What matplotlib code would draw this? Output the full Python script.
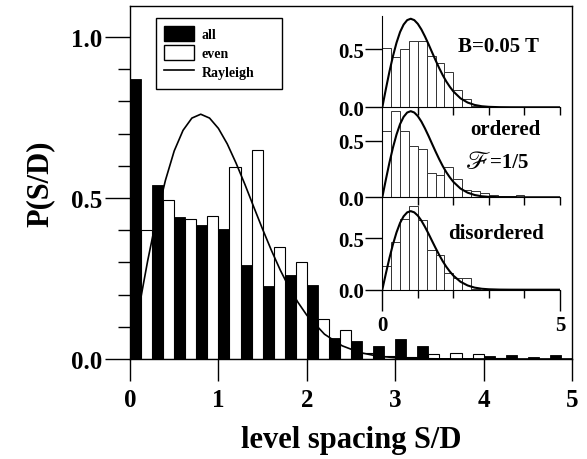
import numpy as np
import matplotlib
matplotlib.use("Agg")
import matplotlib.pyplot as plt
from matplotlib.patches import Patch, Rectangle
from matplotlib.lines import Line2D

plt.rcParams["font.family"] = ["Liberation Serif", "DejaVu Serif"]
plt.rcParams["font.weight"] = "bold"

# ---- data ----
BIN_W = 0.25
# main histogram, bins of 0.25 starting at 0
all_counts = [0.87, 0.54, 0.44, 0.415, 0.405, 0.293, 0.226, 0.261, 0.23,
              0.064, 0.055, 0.041, 0.061, 0.041, 0.004, 0.004, 0.009,
              0.013, 0.007, 0.011]
even_counts = [0.40, 0.493, 0.436, 0.445, 0.597, 0.649, 0.347, 0.300, 0.124,
               0.091, 0.019, 0.010, 0.005, 0.015, 0.018, 0.015, 0.002,
               0.0, 0.0, 0.0]

# Rayleigh curve
ray_s = [0.0, 0.1, 0.2, 0.3, 0.4, 0.5, 0.6, 0.7, 0.8, 0.9, 1.0, 1.1, 1.2,
         1.3, 1.4, 1.5, 1.6, 1.7, 1.8, 1.9, 2.0, 2.2, 2.4, 2.6, 2.8, 3.0,
         3.3, 3.6, 4.0, 5.0]
ray_p = [0.0, 0.156, 0.305, 0.439, 0.554, 0.646, 0.710, 0.748, 0.760,
         0.748, 0.716, 0.668, 0.608, 0.542, 0.472, 0.403, 0.337, 0.276,
         0.222, 0.176, 0.136, 0.077, 0.041, 0.020, 0.009, 0.004, 0.001,
         0.0002, 0.0, 0.0]

# insets
b005_counts = [0.51, 0.434, 0.50, 0.566, 0.571, 0.443, 0.377, 0.30, 0.151,
               0.071, 0.012]
ordered_counts = [0.582, 0.759, 0.588, 0.456, 0.426, 0.212, 0.20, 0.27,
                  0.162, 0.065, 0.059, 0.035, 0.02, 0.015, 0.01, 0.02]
disordered_counts = [0.232, 0.465, 0.684, 0.806, 0.674, 0.384, 0.335,
                     0.161, 0.113, 0.113, 0.01]

W, H = 587, 460
fig = plt.figure(figsize=(W / 100, H / 100), dpi=100)


def rect(x0, y0, x1, y1):
    # pixel box -> figure fraction
    return [x0 / W, 1 - y1 / H, (x1 - x0) / W, (y1 - y0) / H]


# ---- main axes ----
ax = fig.add_axes(rect(130, 7, 572, 360))
edges = np.arange(len(all_counts)) * BIN_W
ax.bar(edges, all_counts, width=BIN_W / 2, align="edge",
       color="black", edgecolor="black", lw=0.6, zorder=2)
ax.bar(edges + BIN_W / 2, even_counts, width=BIN_W / 2, align="edge",
       color="white", edgecolor="black", lw=0.8, zorder=2)
ax.plot(ray_s, ray_p, color="black", lw=1.2, zorder=3)

ax.set_xlim(0, 5)
ax.set_ylim(0, 1.096)
ax.set_xticks(range(6))
ax.set_yticks([0.0, 0.5, 1.0])
ax.set_yticklabels(["0.0", "0.5", "1.0"])
ax.set_yticks(np.arange(0, 1.05, 0.1), minor=True)
ax.tick_params(axis="y", which="major", direction="out", length=18,
               width=1, labelsize=18, pad=2)
ax.tick_params(axis="y", which="minor", direction="out", length=9, width=1)
ax.tick_params(axis="x", which="major", direction="out", length=16,
               width=1, labelsize=18, pad=5)
for sp in ax.spines.values():
    sp.set_linewidth(1.0)
ax.set_xlabel("level spacing S/D", fontsize=22, fontweight="bold", labelpad=10)
ax.set_ylabel("P(S/D)", fontsize=22, fontweight="bold", labelpad=12)

handles = [Patch(facecolor="black", edgecolor="black", label="all"),
           Patch(facecolor="white", edgecolor="black", label="even"),
           Line2D([0], [0], color="black", lw=1.2, label="Rayleigh")]
leg = ax.legend(handles=handles, loc="upper left",
                bbox_to_anchor=(0.059, 0.966), borderaxespad=0,
                prop={"family": "Liberation Serif", "weight": "bold", "size": 10},
                handlelength=2.15, handleheight=1.2, handletextpad=0.55,
                labelspacing=0.3, borderpad=0.6, frameon=False)
# legend box is wider than its text in the original
fig.add_artist(Rectangle((156 / W, 1 - 90 / H), 126 / W, 71 / H,
                         transform=fig.transFigure, facecolor="none",
                         edgecolor="black", lw=1.0, zorder=5))

# ---- insets ----
panels = [
    (b005_counts, 16.7, 108.3, 0.786, "B=0.05 T", (3.27, 0.53)),
    (ordered_counts, 107.3, 198.3, 0.803, "ordered", (3.47, 0.60)),
    (disordered_counts, 199.0, 290.7, 0.887, "disordered", (3.21, 0.55)),
]
for k, (cnt, y0, y1, ytop, lab, pos) in enumerate(panels):
    ia = fig.add_axes(rect(382.3, y0, 560, y1))
    ia.patch.set_alpha(0)
    e = np.arange(len(cnt)) * BIN_W
    ia.bar(e, cnt, width=BIN_W, align="edge", color="white",
           edgecolor="#333333", lw=0.7, zorder=2)
    ia.plot(ray_s, ray_p, color="black", lw=1.5, zorder=3)
    ia.set_xlim(0, 5)
    ia.set_ylim(0, ytop)
    ia.spines["top"].set_visible(False)
    ia.spines["right"].set_visible(False)
    ia.set_yticks([0.0, 0.5])
    ia.set_yticklabels(["0.0", "0.5"])
    ia.tick_params(axis="y", direction="out", length=12, width=1,
                   labelsize=15, pad=1)
    if k < 2:
        ia.set_xticks([1, 2, 3, 4, 5])
        ia.tick_params(axis="x", direction="out", length=6, width=1,
                       labelbottom=False)
    else:
        ia.set_xticks([0, 5])
        ia.set_xticklabels(["0", "5"])
        ia.set_xticks([1, 2, 3, 4], minor=True)
        ia.tick_params(axis="x", which="major", direction="out", length=15,
                       width=1, labelsize=15, pad=3)
        ia.tick_params(axis="x", which="minor", direction="out", length=6,
                       width=1)
    ia.text(pos[0], pos[1], lab, ha="center", va="center", fontsize=15,
            fontweight="bold")
    if k == 1:
        ia.text(3.03, 0.31, "\u2131", ha="right", va="center",
                fontsize=19, fontweight="normal",
                family=["STIXGeneral", "DejaVu Sans"])
        ia.text(3.03, 0.31, "=1/5", ha="left", va="center",
                fontsize=15, fontweight="bold")

fig.savefig("out.png", dpi=100)
